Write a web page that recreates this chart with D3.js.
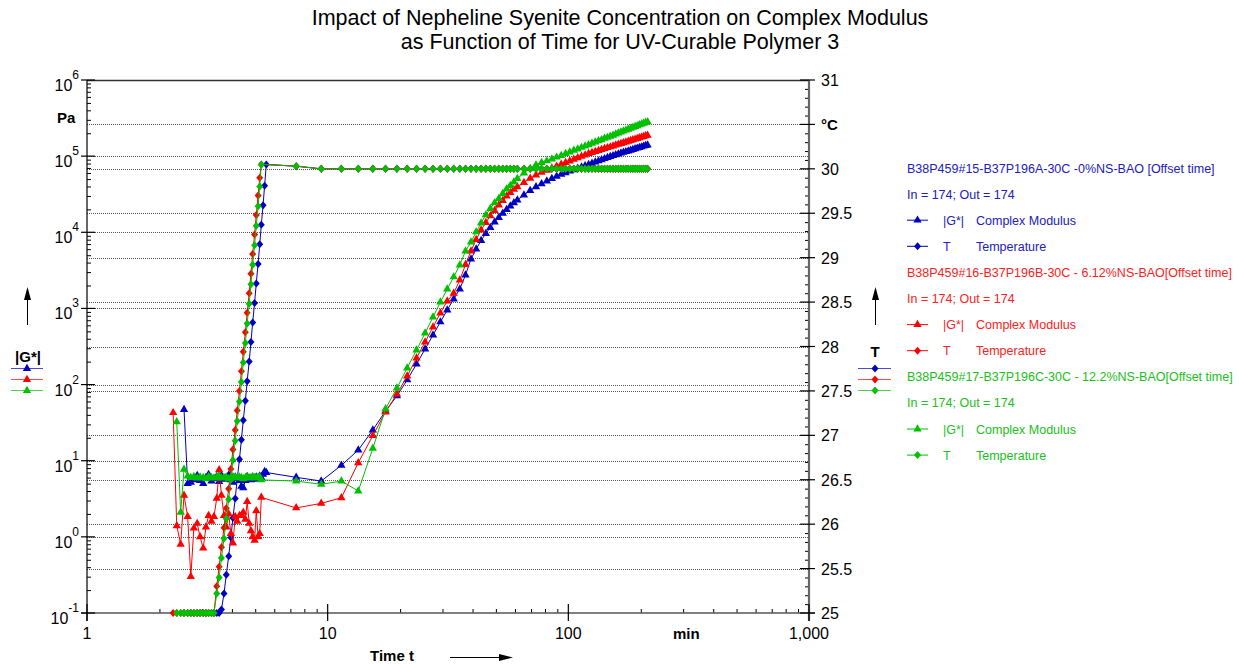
<!doctype html>
<html lang="en">
  <head>
    <meta charset="utf-8">
    <title>Complex Modulus vs Time</title>
    <script src="https://d3js.org/d3.v7.min.js"></script>
    <style>
      body { margin: 0; background: #fff; }
      text { font-family: Arial, "Liberation Sans", sans-serif; }
    </style>
  </head>
  <body>
    <svg width="1239" height="664"></svg>
    <script>
      // time in minutes (early dense part, then the 2 / 4 min part)
      var time = [
        2.28, 2.36, 2.45, 2.53, 2.62, 2.70, 2.78, 2.87, 2.95, 3.04,
        3.12, 3.20, 3.29, 3.37, 3.46, 3.54, 3.62, 3.71, 3.79, 3.88,
        3.96, 4.04, 4.13, 4.21, 4.30, 4.38, 4.46, 4.55, 4.63, 4.72,
        4.80, 4.88, 4.97, 5.05, 5.14, 5.22, 5.30, 5.39, 5.47, 5.56,
        7.4, 9.4, 11.4, 13.4, 15.4, 17.4, 19.4, 21.4, 23.4, 25.4,
        27.4, 29.4, 31.4, 33.4, 35.4, 37.4, 39.4, 41.4, 43.4, 45.4,
        47.4, 49.4, 51.4, 53.4, 55.4, 57.4, 59.4, 61.4,
        65.4, 69.4, 73.4, 77.4, 81.4, 85.4, 89.4, 93.4, 97.4, 101.4,
        105.4, 109.4, 113.4, 117.4, 121.4, 125.4, 129.4, 133.4, 137.4, 141.4,
        145.4, 149.4, 153.4, 157.4, 161.4, 165.4, 169.4, 173.4, 177.4, 181.4,
        185.4, 189.4, 193.4, 197.4, 201.4, 205.4, 209.4, 213.4
      ];

      // |G*| in Pa
      var gBlue = [
        null, null, null, 47, 5.0, 5.2, 5.6, 6.4, 5.5, 5.0,
        6.0, 6.6, 5.4, 5.8, 6.2, 5.3, 6.4, 5.7, 5.9, 6.5,
        5.6, 5.2, 6.1, 5.8, 5.5, 4.6, 4.4, 5.5, 6.2, 5.8,
        5.6, 6.0, 5.7, 6.1, 5.9, 6.3, 6.0, 6.6, 7.2, 7.0,
        6.05, 5.4, 8.7, 13.8, 25.3, 45, 71, 115, 186, 293,
        448, 664, 953, 1330, 1800, 2750, 4460, 6030, 7800, 9640,
        11560, 13650, 15630, 17750, 19900, 22100, 24300, 26500,
        30900, 35300, 39600, 43300, 47100, 50800, 54300, 57700, 60500, 63400,
        66200, 69000, 71800, 74600, 77600, 80500, 83500, 86500, 89500, 92500,
        95700, 98600, 101400, 104200, 106700, 109400, 112000, 114400, 116900, 119400,
        121900, 124500, 127100, 129400, 132100, 135100, 137500, 140000
      ];
      var gRed = [
        42.7, 1.4, 0.8, 3.5, 1.85, 0.30, 1.3, 1.5, 1.0, 0.71,
        1.34, 1.9, 1.6, 1.85, 3.2, 7.6, 3.5, 1.9, 1.34, 2.0,
        1.1, 0.83, 1.85, 1.6, 1.9, 1.9, 2.1, 1.7, 2.9, 1.5,
        1.2, 1.0, 0.9, 2.2, 1.0, 1.1, 3.3, null, null, null,
        2.4, 2.75, 3.26, 9.4, 21.3, 43.6, 75, 129, 223, 362,
        570, 871, 1250, 1580, 2360, 3770, 5680, 8040, 10700, 13400,
        16400, 19300, 22800, 26100, 29800, 33300, 36500, 39600,
        45100, 51200, 56500, 61100, 65300, 69500, 73800, 78100, 82200, 86300,
        90600, 94800, 99300, 103500, 108000, 111600, 115100, 118600, 122200, 125600,
        129100, 132100, 135800, 139600, 143200, 146600, 149700, 153500, 156700, 160000,
        164000, 166900, 170600, 174200, 177400, 181100, 184500, 187900
      ];
      var gGreen = [
        null, 32.5, 2.1, 7.7, 6.3, 6.0, 6.2, 5.9, 6.1, 6.0,
        5.8, 6.2, 6.0, 5.9, 6.1, 6.3, 5.9, 6.0, 6.1, 5.8,
        6.0, 6.2, 6.0, 5.9, 6.1, 6.0, 5.8, 6.0, 6.1, 5.9,
        6.0, 6.2, 6.0, 5.9, 6.0, 6.1, 5.6, null, null, null,
        5.4, 4.9, 5.4, 4.0, 14.5, 48, 90, 165, 284, 475,
        771, 1210, 1800, 2590, 3720, 5680, 7450, 10100, 13200, 16900,
        20500, 24300, 27800, 32300, 37000, 41100, 45700, 50800,
        60100, 68800, 76600, 82300, 86500, 91400, 96800, 102000, 108000, 113000,
        119000, 124000, 130000, 136000, 141000, 147000, 153000, 159000, 164000, 171000,
        176000, 182000, 188000, 195000, 201000, 207000, 213000, 219000, 225000, 231000,
        238000, 244000, 250000, 257000, 264000, 270000, 277000, 283000
      ];

      // temperature in degC
      var tBlue = [
        null, null, null, 25.0, 25.0, 25.0, 25.0, 25.0, 25.0, 25.0,
        25.0, 25.0, 25.0, 25.0, 25.0, 25.0, 25.04, 25.22, 25.43, 25.64,
        25.85, 26.07, 26.29, 26.51, 26.73, 26.95, 27.17, 27.39, 27.61, 27.83,
        28.05, 28.27, 28.49, 28.71, 28.93, 29.15, 29.37, 29.59, 29.81, 30.05,
        30.03, 30.0, 30.0, 30.0, 30.0, 30.0, 30.0, 30.0, 30.0, 30.0,
        30.0, 30.0, 30.0, 30.0, 30.0, 30.0, 30.0, 30.0, 30.0, 30.0,
        30.0, 30.0, 30.0, 30.0, 30.0, 30.0, 30.0, 30.0,
        30.0, 30.0, 30.0, 30.0, 30.0, 30.0, 30.0, 30.0, 30.0, 30.0,
        30.0, 30.0, 30.0, 30.0, 30.0, 30.0, 30.0, 30.0, 30.0, 30.0,
        30.0, 30.0, 30.0, 30.0, 30.0, 30.0, 30.0, 30.0, 30.0, 30.0,
        30.0, 30.0, 30.0, 30.0, 30.0, 30.0, 30.0, 30.0
      ];
      var tRed = [
        25.0, 25.0, 25.0, 25.0, 25.0, 25.0, 25.0, 25.0, 25.0, 25.0,
        25.0, 25.0, 25.0, 25.0, 25.30, 25.52, 25.74, 25.96, 26.18, 26.40,
        26.62, 26.84, 27.06, 27.28, 27.50, 27.72, 27.94, 28.16, 28.38, 28.60,
        28.82, 29.04, 29.26, 29.48, 29.70, 29.90, 30.05, null, null, null,
        30.03, 30.0, 30.0, 30.0, 30.0, 30.0, 30.0, 30.0, 30.0, 30.0,
        30.0, 30.0, 30.0, 30.0, 30.0, 30.0, 30.0, 30.0, 30.0, 30.0,
        30.0, 30.0, 30.0, 30.0, 30.0, 30.0, 30.0, 30.0,
        30.0, 30.0, 30.0, 30.0, 30.0, 30.0, 30.0, 30.0, 30.0, 30.0,
        30.0, 30.0, 30.0, 30.0, 30.0, 30.0, 30.0, 30.0, 30.0, 30.0,
        30.0, 30.0, 30.0, 30.0, 30.0, 30.0, 30.0, 30.0, 30.0, 30.0,
        30.0, 30.0, 30.0, 30.0, 30.0, 30.0, 30.0, 30.0
      ];
      var tGreen = [
        null, 25.0, 25.0, 25.0, 25.0, 25.0, 25.0, 25.0, 25.0, 25.0,
        25.0, 25.0, 25.0, 25.0, 25.22, 25.40, 25.62, 25.84, 26.06, 26.28,
        26.50, 26.72, 26.94, 27.16, 27.38, 27.60, 27.82, 28.04, 28.26, 28.48,
        28.70, 28.92, 29.14, 29.36, 29.58, 29.80, 30.05, null, null, null,
        30.03, 30.0, 30.0, 30.0, 30.0, 30.0, 30.0, 30.0, 30.0, 30.0,
        30.0, 30.0, 30.0, 30.0, 30.0, 30.0, 30.0, 30.0, 30.0, 30.0,
        30.0, 30.0, 30.0, 30.0, 30.0, 30.0, 30.0, 30.0,
        30.0, 30.0, 30.0, 30.0, 30.0, 30.0, 30.0, 30.0, 30.0, 30.0,
        30.0, 30.0, 30.0, 30.0, 30.0, 30.0, 30.0, 30.0, 30.0, 30.0,
        30.0, 30.0, 30.0, 30.0, 30.0, 30.0, 30.0, 30.0, 30.0, 30.0,
        30.0, 30.0, 30.0, 30.0, 30.0, 30.0, 30.0, 30.0
      ];

      var seriesNames = [
        'B38P459#15-B37P196A-30C -0%NS-BAO [Offset time]',
        'B38P459#16-B37P196B-30C - 6.12%NS-BAO[Offset time]',
        'B38P459#17-B37P196C-30C - 12.2%NS-BAO[Offset time]'
      ];
      var seriesColors = ['#0000c0', '#ff0000', '#00c000'];
      var legendColors = ['#2020c0', '#ff2020', '#20c020'];
      var xTickLabels = ['1', '10', '100', '1,000'];
      // 30.5 carries the unit instead of a number
      var tTickLabels = ['25', '25.5', '26', '26.5', '27', '27.5', '28', '28.5', '29', '29.5', '30', '', '31'];
      var tTicks = [25, 25.5, 26, 26.5, 27, 27.5, 28, 28.5, 29, 29.5, 30, 30.5, 31];

      var svg = d3.select('svg');
      var pL = 87, pR = 809, pT = 80, pB = 613;

      var x = d3.scaleLog().domain([1, 1000]).range([pL, pR]);
      var yG = d3.scaleLog().domain([0.1, 1e6]).range([pB, pT]);
      var yT = d3.scaleLinear().domain([25, 31]).range([pB, pT]);

      // title
      svg.append('text').attr('x', 620).attr('y', 25).attr('text-anchor', 'middle')
        .style('font-size', '21.5px').text('Impact of Nepheline Syenite Concentration on Complex Modulus');
      svg.append('text').attr('x', 620).attr('y', 49).attr('text-anchor', 'middle')
        .style('font-size', '21.5px').text('as Function of Time for UV-Curable Polymer 3');

      // grid
      var decades = [1, 10, 100, 1000, 1e4, 1e5];
      var grid = svg.append('g').attr('stroke', '#555').attr('stroke-dasharray', '1,1');
      decades.forEach(function(d){
        grid.append('line').attr('x1', pL).attr('x2', pR)
          .attr('y1', Math.round(yG(d)) + 0.5).attr('y2', Math.round(yG(d)) + 0.5);
      });
      tTicks.slice(1, -1).forEach(function(d){
        grid.append('line').attr('x1', pL).attr('x2', pR)
          .attr('y1', Math.round(yT(d)) + 0.5).attr('y2', Math.round(yT(d)) + 0.5);
      });

      // minor ticks through d3 axes
      var gMinor = [];
      d3.range(-1, 6).forEach(function(e){
        for (var k = 2; k <= 9; k++) gMinor.push(k * Math.pow(10, e));
      });
      var xMinor = [];
      d3.range(0, 3).forEach(function(e){
        for (var k = 2; k <= 9; k++) xMinor.push(k * Math.pow(10, e));
      });
      var tMinor = d3.range(251, 310).map(function(v){ return v / 10; })
        .filter(function(v){ return Math.abs(v * 2 - Math.round(v * 2)) > 0.01; });

      svg.append('g').attr('transform', 'translate(' + pL + ',0)')
        .call(d3.axisRight(yG).tickValues(gMinor).tickSize(4).tickFormat(''))
        .call(function(g){ g.select('.domain').remove(); });
      svg.append('g').attr('transform', 'translate(0,' + pB + ')')
        .call(d3.axisTop(x).tickValues(xMinor).tickSize(4).tickFormat(''))
        .call(function(g){ g.select('.domain').remove(); });
      svg.append('g').attr('transform', 'translate(' + pR + ',0)')
        .call(d3.axisLeft(yT).tickValues(tMinor).tickSize(4).tickFormat(''))
        .call(function(g){ g.select('.domain').remove(); });

      // frame lines
      svg.append('line').attr('x1', pL).attr('x2', pR).attr('y1', pT + 0.5).attr('y2', pT + 0.5)
        .attr('stroke', '#333').attr('stroke-width', 1.5);
      svg.append('line').attr('x1', pL - 6).attr('x2', pR + 6).attr('y1', pB).attr('y2', pB)
        .attr('stroke', '#555').attr('stroke-width', 1.5);
      svg.append('line').attr('x1', pL).attr('x2', pL).attr('y1', pT).attr('y2', pB + 8)
        .attr('stroke', '#000').attr('stroke-width', 1.2);
      svg.append('line').attr('x1', pR).attr('x2', pR).attr('y1', pT).attr('y2', pB + 8)
        .attr('stroke', '#666').attr('stroke-width', 2.2);

      // left major ticks + labels
      var gMajor = [0.1, 1, 10, 100, 1000, 1e4, 1e5, 1e6];
      gMajor.forEach(function(d){
        var yy = yG(d);
        svg.append('line').attr('x1', pL - 6).attr('x2', pL + 8).attr('y1', yy).attr('y2', yy)
          .attr('stroke', '#000').attr('stroke-width', 1.2);
        var t = svg.append('text').attr('x', 79).attr('y', yy + 11).attr('text-anchor', 'end')
          .style('font-size', '16px');
        t.append('tspan').text('10');
        t.append('tspan').attr('dy', -12).style('font-size', '12px').text(Math.round(Math.log10(d)));
      });

      // bottom major ticks + labels
      [1, 10, 100, 1000].forEach(function(d, i){
        var xx = x(d);
        svg.append('line').attr('x1', xx).attr('x2', xx).attr('y1', pB - 9).attr('y2', pB + 8)
          .attr('stroke', '#000').attr('stroke-width', 1.2);
        svg.append('text').attr('x', xx).attr('y', 639).attr('text-anchor', 'middle')
          .style('font-size', '16px').text(xTickLabels[i]);
      });

      // right major ticks + labels
      tTicks.forEach(function(v, i){
        var yy = yT(v);
        svg.append('line').attr('x1', pR - 9).attr('x2', pR + 6).attr('y1', yy).attr('y2', yy)
          .attr('stroke', '#000').attr('stroke-width', 1.2);
        if (tTickLabels[i]) {
          svg.append('text').attr('x', 821).attr('y', yy + 6).style('font-size', '16px').text(tTickLabels[i]);
        }
      });

      // units and axis titles
      svg.append('text').attr('x', 57).attr('y', 123).style('font-size', '15px').style('font-weight', 'bold').text('Pa');
      svg.append('text').attr('x', 821).attr('y', 130).style('font-size', '15px').style('font-weight', 'bold').text('°C');
      svg.append('text').attr('x', 673).attr('y', 639).style('font-size', '15px').style('font-weight', 'bold').text('min');
      svg.append('text').attr('x', 370).attr('y', 661).style('font-size', '15px').style('font-weight', 'bold').text('Time t');
      svg.append('text').attr('x', 28).attr('y', 362).attr('text-anchor', 'middle').style('font-size', '15px').style('font-weight', 'bold').text('|G*|');
      svg.append('text').attr('x', 875).attr('y', 357).attr('text-anchor', 'middle').style('font-size', '15px').style('font-weight', 'bold').text('T');

      function arrowUp(cx, y1, y2){
        svg.append('line').attr('x1', cx).attr('x2', cx).attr('y1', y1).attr('y2', y2 + 8).attr('stroke', '#000');
        svg.append('path').attr('d', 'M' + cx + ',' + y2 + 'L' + (cx + 3.5) + ',' + (y2 + 13) + 'L' + (cx - 3.5) + ',' + (y2 + 13) + 'Z').attr('fill', '#000');
      }
      arrowUp(27.5, 325, 287);
      arrowUp(875.5, 325, 287);
      svg.append('line').attr('x1', 450).attr('x2', 500).attr('y1', 657.5).attr('y2', 657.5).attr('stroke', '#000');
      svg.append('path').attr('d', 'M513,657.5L499,654L499,661Z').attr('fill', '#000');

      // markers
      var tri = d3.symbol().type(d3.symbolTriangle).size(30);
      var dia = 'M0,-4L3.5,0L0,4L-3.5,0Z';

      var series = [
        { g: gBlue, t: tBlue, c: seriesColors[0] },
        { g: gRed, t: tRed, c: seriesColors[1] },
        { g: gGreen, t: tGreen, c: seriesColors[2] }
      ];

      var plot = svg.append('g');
      series.forEach(function(s){
        var gPts = time.map(function(tt, i){ return { x: tt, v: s.g[i] }; }).filter(function(d){ return d.v != null; });
        var tPts = time.map(function(tt, i){ return { x: tt, v: s.t[i] }; }).filter(function(d){ return d.v != null; });

        plot.append('path').datum(tPts)
          .attr('fill', 'none').attr('stroke', s.c).attr('stroke-width', 1)
          .attr('d', d3.line().x(function(d){ return x(d.x); }).y(function(d){ return yT(d.v); }));
        plot.append('g').selectAll('path').data(tPts).enter().append('path')
          .attr('transform', function(d){ return 'translate(' + x(d.x) + ',' + yT(d.v) + ')'; })
          .attr('d', dia).attr('fill', s.c);

        plot.append('path').datum(gPts)
          .attr('fill', 'none').attr('stroke', s.c).attr('stroke-width', 1)
          .attr('d', d3.line().x(function(d){ return x(d.x); }).y(function(d){ return yG(d.v); }));
        plot.append('g').selectAll('path').data(gPts).enter().append('path')
          .attr('transform', function(d){ return 'translate(' + x(d.x) + ',' + yG(d.v) + ')'; })
          .attr('d', tri).attr('fill', s.c);
      });

      // side legends by the axis titles
      seriesColors.forEach(function(c, i){
        var yy = 368.5 + i * 11;
        svg.append('line').attr('x1', 11).attr('x2', 43).attr('y1', yy).attr('y2', yy).attr('stroke', c).attr('opacity', 0.7);
        svg.append('path').attr('transform', 'translate(27,' + yy + ')').attr('d', tri).attr('fill', c);
        svg.append('line').attr('x1', 858).attr('x2', 891).attr('y1', yy).attr('y2', yy).attr('stroke', c).attr('opacity', 0.7);
        svg.append('path').attr('transform', 'translate(875,' + yy + ')').attr('d', dia).attr('fill', c);
      });

      // legend block
      var lx = 907, rowH = 26.1;
      seriesNames.forEach(function(name, i){
        var c = legendColors[i];
        var y0 = 168 + i * 4 * rowH;
        var lg = svg.append('g').attr('fill', c).style('font-size', '12.5px');
        lg.append('text').attr('x', lx).attr('y', y0 + 4.5).text(name);
        lg.append('text').attr('x', lx).attr('y', y0 + rowH + 4.5).text('In = 174; Out = 174');
        var y2 = y0 + 2 * rowH, y3 = y0 + 3 * rowH;
        svg.append('line').attr('x1', lx).attr('x2', lx + 21).attr('y1', y2).attr('y2', y2).attr('stroke', seriesColors[i]);
        svg.append('path').attr('transform', 'translate(' + (lx + 10.5) + ',' + y2 + ')').attr('d', tri).attr('fill', seriesColors[i]);
        lg.append('text').attr('x', 943).attr('y', y2 + 4.5).text('|G*|');
        lg.append('text').attr('x', 976).attr('y', y2 + 4.5).text('Complex Modulus');
        svg.append('line').attr('x1', lx).attr('x2', lx + 21).attr('y1', y3).attr('y2', y3).attr('stroke', seriesColors[i]);
        svg.append('path').attr('transform', 'translate(' + (lx + 10.5) + ',' + y3 + ')').attr('d', dia).attr('fill', seriesColors[i]);
        lg.append('text').attr('x', 943).attr('y', y3 + 4.5).text('T');
        lg.append('text').attr('x', 976).attr('y', y3 + 4.5).text('Temperature');
      });
    </script>
  </body>
</html>
